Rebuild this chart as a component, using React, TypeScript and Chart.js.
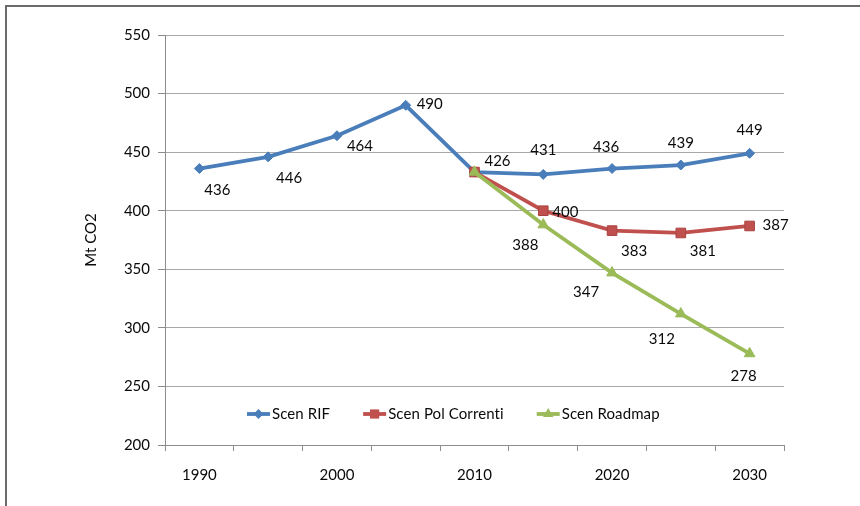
import React, { useEffect, useRef } from 'react';
import { Chart, registerables } from 'chart.js';

Chart.register(...registerables);

const CATEGORIES = ['1990', '1995', '2000', '2005', '2010', '2015', '2020', '2025', '2030'];
const SHOWN_X_LABELS = ['1990', '2000', '2010', '2020', '2030'];
const Y_MIN = 200;
const Y_MAX = 550;
const Y_STEP = 50;
const Y_TITLE = 'Mt CO2';

const SERIES_NAMES = ['Scen RIF', 'Scen Pol Correnti', 'Scen Roadmap'];

const RIF_VALUES = [436, 446, 464, 490, 433, 431, 436, 439, 449];
const POL_VALUES = [null, null, null, null, 433, 400, 383, 381, 387];
const ROADMAP_VALUES = [null, null, null, null, 433, 388, 347, 312, 278];

const RIF_LABELS = ['436', '446', '464', '490', '426', '431', '436', '439', '449'];
const POL_LABELS = [null, null, null, null, null, '400', '383', '381', '387'];
const ROADMAP_LABELS = [null, null, null, null, null, '388', '347', '312', '278'];

// label placement relative to the point (dx, dy)
const RIF_LABEL_OFFSETS = [[18, 22], [21, 21], [23, 10], [24, -1], [23, -11], [0, -24], [-6, -21], [0, -22], [0, -23]];
const POL_LABEL_OFFSETS = [null, null, null, null, null, [22, 1], [22, 21], [22, 18], [26, -1]];
const ROADMAP_LABEL_OFFSETS = [null, null, null, null, null, [-18, 20], [-26, 19], [-19, 25], [-6, 23]];

const FONT = 'Lato';
const FONT_SIZE = 15;
const TEXT_COLOR = '#0a0a0a';
const BLUE = '#4a7ebb';
const RED = '#c0504d';
const GREEN = '#9bbb59';
const COLORS = [BLUE, RED, GREEN];
const MARKERS = ['rectRot', 'rect', 'triangle'];

function drawMarker(ctx: CanvasRenderingContext2D, kind: string, x: number, y: number, color: string) {
  ctx.save();
  ctx.fillStyle = color;
  ctx.beginPath();
  if (kind === 'rectRot') {
    const r = 5;
    ctx.moveTo(x, y - r);
    ctx.lineTo(x + r, y);
    ctx.lineTo(x, y + r);
    ctx.lineTo(x - r, y);
    ctx.closePath();
  } else if (kind === 'rect') {
    const s = 4.6;
    ctx.rect(x - s, y - s, 2 * s, 2 * s);
  } else {
    const r = 6;
    ctx.moveTo(x, y - r);
    ctx.lineTo(x + r * 0.866, y + r * 0.5);
    ctx.lineTo(x - r * 0.866, y + r * 0.5);
    ctx.closePath();
  }
  ctx.fill();
  ctx.restore();
}

const framePlugin = {
  id: 'frame',
  beforeDraw(chart: any) {
    const ctx = chart.ctx;
    ctx.save();
    ctx.fillStyle = '#6b6b6b';
    ctx.fillRect(5, 5, chart.width - 5, 2);
    ctx.fillRect(5, 5, 2, chart.height - 5);
    ctx.restore();
  },
};

const labelsPlugin = {
  id: 'valueLabels',
  afterDatasetsDraw(chart: any) {
    const ctx = chart.ctx;
    const allLabels = [RIF_LABELS, POL_LABELS, ROADMAP_LABELS];
    const allOffsets = [RIF_LABEL_OFFSETS, POL_LABEL_OFFSETS, ROADMAP_LABEL_OFFSETS];
    ctx.save();
    ctx.font = `${FONT_SIZE}px ${FONT}`;
    ctx.fillStyle = TEXT_COLOR;
    ctx.textAlign = 'center';
    ctx.textBaseline = 'middle';
    chart.data.datasets.forEach((_ds: any, di: number) => {
      const meta = chart.getDatasetMeta(di);
      meta.data.forEach((pt: any, i: number) => {
        const txt = allLabels[di][i];
        const off = allOffsets[di][i] as number[] | null;
        if (!txt || !off) return;
        ctx.fillText(txt, pt.x + off[0], pt.y + off[1]);
      });
    });
    ctx.restore();
  },
};

const legendPlugin = {
  id: 'insideLegend',
  afterDraw(chart: any) {
    const ctx = chart.ctx;
    const area = chart.chartArea;
    const y = area.bottom - 31;
    let x = area.left + 82;
    ctx.save();
    ctx.font = `${FONT_SIZE}px ${FONT}`;
    try {
      (ctx as any).letterSpacing = '0.1px';
    } catch (e) {
      /* ignore */
    }
    ctx.textBaseline = 'middle';
    ctx.textAlign = 'left';
    SERIES_NAMES.forEach((name, i) => {
      ctx.strokeStyle = COLORS[i];
      ctx.lineWidth = 3.8;
      ctx.beginPath();
      ctx.moveTo(x, y);
      ctx.lineTo(x + 23, y);
      ctx.stroke();
      drawMarker(ctx, MARKERS[i], x + 11.5, y, COLORS[i]);
      ctx.fillStyle = TEXT_COLOR;
      ctx.fillText(name, x + 25, y);
      x += 25 + ctx.measureText(name).width + 33;
    });
    ctx.restore();
  },
};

export default function App() {
  const canvasRef = useRef<HTMLCanvasElement | null>(null);

  useEffect(() => {
    if (!canvasRef.current) return;
    const font = { family: FONT, size: FONT_SIZE };
    const chart = new Chart(canvasRef.current, {
      type: 'line',
      data: {
        labels: CATEGORIES,
        datasets: [
          {
            label: SERIES_NAMES[0],
            data: RIF_VALUES,
            borderColor: BLUE,
            backgroundColor: BLUE,
            pointBackgroundColor: BLUE,
            pointBorderColor: BLUE,
            pointStyle: 'rectRot',
            pointRadius: 5,
            borderWidth: 3.8,
            pointBorderWidth: 1,
            tension: 0,
            order: 3,
          },
          {
            label: SERIES_NAMES[1],
            data: POL_VALUES,
            borderColor: RED,
            backgroundColor: RED,
            pointBackgroundColor: RED,
            pointBorderColor: '#a8423f',
            pointStyle: 'rect',
            pointRadius: 6.8,
            borderWidth: 3.8,
            pointBorderWidth: 1,
            tension: 0,
            order: 2,
          },
          {
            label: SERIES_NAMES[2],
            data: ROADMAP_VALUES,
            borderColor: GREEN,
            backgroundColor: GREEN,
            pointBackgroundColor: GREEN,
            pointBorderColor: GREEN,
            pointStyle: 'triangle',
            pointRadius: 6.2,
            borderWidth: 3.8,
            pointBorderWidth: 1,
            tension: 0,
            order: 1,
          },
        ],
      },
      options: {
        animation: false,
        responsive: true,
        maintainAspectRatio: false,
        layout: { padding: { top: 35, right: 76, bottom: 0, left: 0 } },
        plugins: {
          legend: { display: false },
          tooltip: { enabled: false },
        },
        scales: {
          x: {
            offset: true,
            grid: { offset: true, drawOnChartArea: false, tickLength: 6, color: '#8c8c8c' },
            border: { color: '#8c8c8c' },
            ticks: {
              autoSkip: false,
              maxRotation: 0,
              padding: 15,
              color: TEXT_COLOR,
              font,
              callback: (_v: any, i: number) => (SHOWN_X_LABELS.includes(CATEGORIES[i]) ? CATEGORIES[i] : ''),
            },
            afterFit: (s: any) => {
              s.height = 61;
            },
          },
          y: {
            min: Y_MIN,
            max: Y_MAX,
            ticks: { stepSize: Y_STEP, padding: 8, color: TEXT_COLOR, font },
            grid: { color: '#a8a8a8', tickColor: '#8c8c8c', tickLength: 7 },
            border: { color: '#8c8c8c' },
            title: {
              display: true,
              text: Y_TITLE,
              color: TEXT_COLOR,
              font,
              padding: { top: 82, bottom: 0 },
            },
            afterFit: (s: any) => {
              s.width = 165;
            },
          },
        },
      },
      plugins: [framePlugin, labelsPlugin, legendPlugin],
    });
    return () => chart.destroy();
  }, []);

  return (
    <div style={{ position: 'fixed', left: 0, top: 0, width: 860, height: 506, background: '#fff' }}>
      <canvas ref={canvasRef} />
    </div>
  );
}
